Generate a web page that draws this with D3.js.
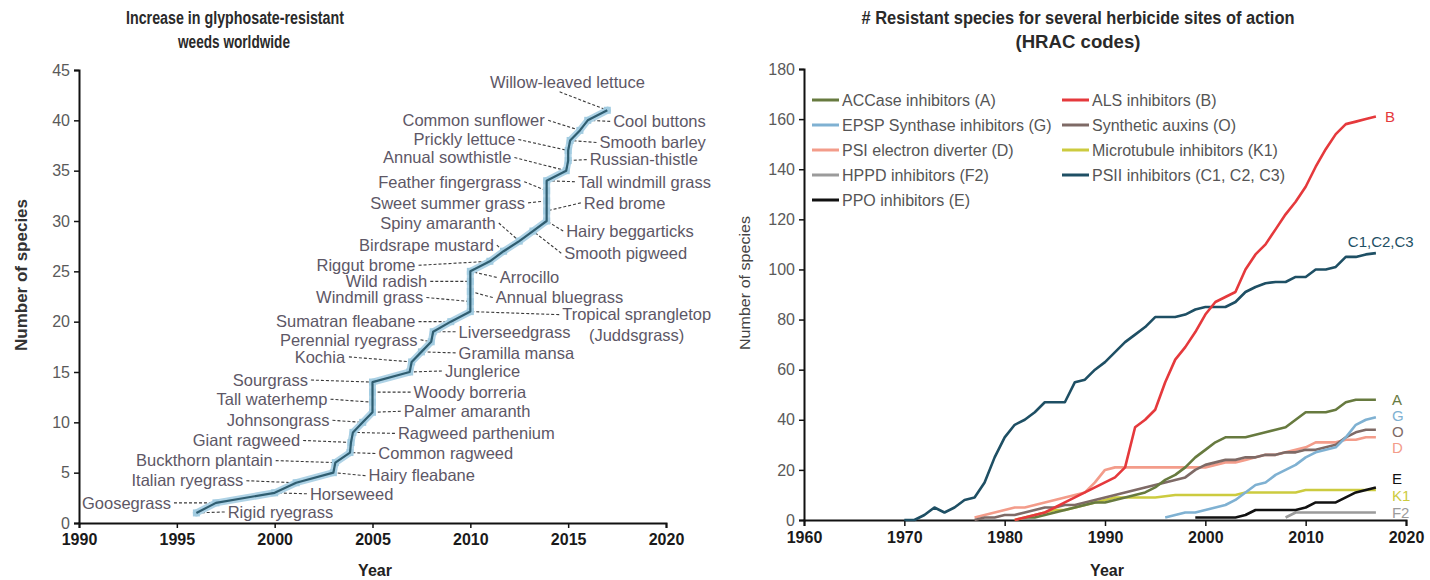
<!DOCTYPE html>
<html>
<head>
<meta charset="utf-8">
<script src="https://cdn.jsdelivr.net/npm/d3@7"></script>
<style>
  body { margin: 0; background: #fff; }
  text { font-family: "Liberation Sans", Arial, sans-serif; }
  .tick text { font-size: 16px; }
</style>
</head>
<body>
<div id="chart"></div>
<script>
// ---------- left panel: glyphosate-resistant weeds, in order of first report
var weedNames = [
  "Rigid ryegrass", "Goosegrass", "Horseweed", "Italian ryegrass", "Hairy fleabane",
  "Buckthorn plantain", "Common ragweed", "Giant ragweed", "Ragweed parthenium", "Johnsongrass",
  "Palmer amaranth", "Tall waterhemp", "Woody borreria", "Sourgrass", "Junglerice",
  "Kochia", "Gramilla mansa", "Perennial ryegrass", "Liverseedgrass", "Sumatran fleabane",
  "Tropical sprangletop\n(Juddsgrass)", "Windmill grass", "Annual bluegrass", "Wild radish", "Arrocillo",
  "Riggut brome", "Birdsrape mustard", "Spiny amaranth", "Smooth pigweed", "Hairy beggarticks",
  "Red brome", "Sweet summer grass", "Feather fingergrass", "Tall windmill grass", "Annual sowthistle",
  "Russian-thistle", "Prickly lettuce", "Smooth barley", "Common sunflower", "Cool buttons",
  "Willow-leaved lettuce"
];
var weedYears = [
  1996.0, 1997.0, 2000.0, 2001.1, 2003.0,
  2003.1, 2003.85, 2003.9, 2004.0, 2004.5,
  2005.0, 2005.0, 2005.0, 2005.0, 2006.9,
  2007.0, 2007.5, 2008.0, 2008.1, 2009.0,
  2010.0, 2010.0, 2010.0, 2010.0, 2010.0,
  2011.0, 2011.7, 2012.5, 2013.2, 2013.9,
  2013.9, 2013.9, 2013.9, 2013.9, 2014.9,
  2015.0, 2015.0, 2015.1, 2015.6, 2016.0,
  2017.0
];
var weedCounts = [
  1, 2, 3, 4, 5, 6, 7, 8, 9, 10,
  11, 12, 13, 14, 15, 16, 17, 18, 19, 20,
  21, 22, 23, 24, 25, 26, 27, 28, 29, 30,
  31, 32, 33, 34, 35, 36, 37, 38, 39, 40,
  41
];
// where each name sits, in axis units: [year, count, text-anchor]
var weedLabelAt = [
  [1997.6, 1.1, "start"], [1994.7, 2.0, "end"], [2001.8, 2.9, "start"], [1998.4, 4.2, "end"], [2004.8, 4.7, "start"],
  [1999.9, 6.2, "end"], [2005.3, 6.9, "start"], [2001.3, 8.2, "end"], [2006.3, 8.9, "start"], [2002.8, 10.2, "end"],
  [2006.6, 11.1, "start"], [2002.7, 12.3, "end"], [2007.1, 13.0, "start"], [2001.7, 14.2, "end"], [2008.7, 15.1, "start"],
  [2003.6, 16.5, "end"], [2009.4, 16.9, "start"], [2007.3, 18.2, "end"], [2009.4, 19.0, "start"], [2007.2, 20.0, "end"],
  [2018.5, 20.7, "middle"], [2007.6, 22.4, "end"], [2011.3, 22.4, "start"], [2007.8, 24.0, "end"], [2011.5, 24.4, "start"],
  [2007.2, 25.6, "end"], [2011.2, 27.6, "end"], [2011.3, 29.8, "end"], [2014.8, 26.8, "start"], [2014.9, 29.0, "start"],
  [2015.8, 31.8, "start"], [2012.8, 31.8, "end"], [2012.6, 33.9, "end"], [2015.5, 33.9, "start"], [2012.1, 36.3, "end"],
  [2016.1, 36.1, "start"], [2012.3, 38.1, "end"], [2016.6, 37.8, "start"], [2013.8, 40.0, "end"], [2017.3, 39.9, "start"],
  [2011.0, 43.8, "top"]
];
var weedYTicks = [0, 5, 10, 15, 20, 25, 30, 35, 40, 45];
var weedXTicks = [1990, 1995, 2000, 2005, 2010, 2015, 2020];

// ---------- right panel: resistant species by HRAC site of action
var hracCodes = ["A", "G", "D", "F2", "E", "B", "O", "K1", "C1,C2,C3"];
var hracNames = [
  "ACCase inhibitors (A)", "EPSP Synthase inhibitors (G)", "PSI electron diverter (D)",
  "HPPD inhibitors (F2)", "PPO inhibitors (E)", "ALS inhibitors (B)", "Synthetic auxins (O)",
  "Microtubule inhibitors (K1)", "PSII inhibitors (C1, C2, C3)"
];
var hracStartYear = [1982, 1996, 1977, 2008, 1999, 1981, 1977, 1981, 1970];

var accaseValues = [1, 1, 2, 3, 4, 5, 6, 7, 7, 8, 9, 10, 11, 13, 16, 18, 21, 25, 28, 31, 33, 33, 33, 34, 35, 36, 37, 40, 43, 43, 43, 44, 47, 48, 48, 48];
var epspValues = [1, 2, 3, 3, 4, 5, 6, 8, 11, 14, 15, 18, 20, 22, 25, 27, 28, 29, 33, 38, 40, 41];
var psiValues = [1, 2, 3, 4, 5, 5, 6, 7, 8, 9, 10, 11, 15, 20, 21, 21, 21, 21, 21, 21, 21, 21, 21, 21, 22, 23, 23, 24, 25, 26, 26, 27, 28, 29, 31, 31, 31, 32, 32, 33, 33];
var hppdValues = [1, 3, 3, 3, 3, 3, 3, 3, 3, 3];
var ppoValues = [1, 1, 1, 1, 1, 2, 4, 4, 4, 4, 4, 5, 7, 7, 7, 9, 11, 12, 13];
var alsValues = [0, 1, 2, 3, 5, 7, 9, 11, 13, 15, 17, 21, 37, 40, 44, 55, 64, 69, 75, 82, 87, 89, 91, 100, 106, 110, 116, 122, 127, 133, 141, 148, 154, 158, 159, 160, 161];
var auxinValues = [0, 1, 1, 2, 2, 3, 4, 5, 5, 6, 6, 7, 8, 9, 10, 11, 12, 13, 14, 15, 16, 17, 20, 22, 23, 24, 24, 25, 25, 26, 26, 27, 27, 28, 28, 29, 30, 33, 35, 36, 36];
var microtubuleValues = [0, 1, 2, 3, 4, 4, 5, 6, 7, 8, 9, 9, 9, 9, 9, 9.5, 10, 10, 10, 10, 10, 10, 10, 11, 11, 11, 11, 11, 11, 12, 12, 12, 12, 12, 12, 12, 12];
var psiiValues = [0, 0, 2, 5, 3, 5, 8, 9, 15, 25, 33, 38, 40, 43, 47, 47, 47, 55, 56, 60, 63, 67, 71, 74, 77, 81, 81, 81, 82, 84, 85, 85, 85, 87, 91, 93, 94.5, 95, 95, 97, 97, 100, 100, 101, 105, 105, 106, 106.5];

var hracValues = [accaseValues, epspValues, psiValues, hppdValues, ppoValues, alsValues, auxinValues, microtubuleValues, psiiValues];
var hracColors = ["#677a3f", "#7fb1d2", "#f39c8a", "#9b9b9b", "#111111", "#e5393c", "#7e6a66", "#cccb3f", "#1e4f64"];
// end-of-line code labels, in axis units: [year, value]
var hracLabelAt = [[2018.6, 48], [2018.6, 41.5], [2018.6, 28.7], [2018.6, 3], [2018.6, 16.5], [2017.9, 161], [2018.6, 35.2], [2018.6, 9.5], [2014.2, 111]];
var hracYTicks = [0, 20, 40, 60, 80, 100, 120, 140, 160, 180];
var hracXTicks = [1960, 1970, 1980, 1990, 2000, 2010, 2020];

var width = 1430, height = 580;

var svg = d3.select("#chart").append("svg")
  .attr("width", width)
  .attr("height", height);

// ================= left panel =================
var xL = d3.scaleLinear().domain([1990, 2020]).range([79, 666]);
var yL = d3.scaleLinear().domain([0, 45]).range([523, 70]);

var left = svg.append("g").attr("class", "left");

left.append("g")
  .attr("transform", "translate(0," + yL(0) + ")")
  .call(d3.axisBottom(xL).tickValues(weedXTicks).tickFormat(d3.format("d")).tickSizeOuter(0).tickSize(5).tickPadding(6))
  .call(styleAxis, true);

left.append("g")
  .attr("transform", "translate(" + xL(1990) + ",0)")
  .call(d3.axisLeft(yL).tickValues(weedYTicks).tickSizeOuter(0).tickSize(5).tickPadding(4))
  .call(styleAxis, false);

function styleAxis(g, isX) {
  g.select(".domain").attr("stroke", "#111").attr("stroke-width", 2);
  g.selectAll(".tick line").attr("stroke", "#111").attr("stroke-width", 1.5);
  g.selectAll(".tick text")
    .attr("fill", isX ? "#1a1a1a" : "#5a5a5a")
    .attr("font-weight", isX ? "bold" : "normal")
    .attr("font-size", "16px");
}

var weeds = weedNames.map(function(n, i) {
  return { name: n, year: weedYears[i], count: weedCounts[i], lab: weedLabelAt[i] };
});

var weedLine = d3.line()
  .x(function(d) { return xL(d.year) })
  .y(function(d) { return yL(d.count) });

// leaders first so the curve sits on top
var leaderG = left.append("g");
var labelG = left.append("g");

left.append("path")
  .datum(weeds)
  .attr("d", weedLine)
  .attr("fill", "none")
  .attr("stroke", "#afd3e6")
  .attr("stroke-width", 7)
  .attr("stroke-linejoin", "round")
  .attr("stroke-linecap", "round");

left.selectAll(".pt")
  .data(weeds)
  .enter().append("rect")
  .attr("class", "pt")
  .attr("x", function(d) { return xL(d.year) - 3.5 })
  .attr("y", function(d) { return yL(d.count) - 3.5 })
  .attr("width", 7)
  .attr("height", 7)
  .attr("fill", "#a2cce1");

left.append("path")
  .datum(weeds)
  .attr("d", weedLine)
  .attr("fill", "none")
  .attr("stroke", "#2f5d70")
  .attr("stroke-width", 2.2)
  .attr("stroke-linejoin", "round");

weeds.forEach(function(d) {
  var side = d.lab[2];
  var anchor = side === "top" ? "start" : side;
  var t = labelG.append("text")
    .attr("x", xL(d.lab[0]))
    .attr("y", yL(d.lab[1]))
    .attr("text-anchor", anchor)
    .attr("font-size", "16.5px")
    .attr("fill", "#5d5766");
  var lines = d.name.split("\n");
  lines.forEach(function(s, k) {
    t.append("tspan")
      .attr("x", xL(d.lab[0]))
      .attr("dy", k === 0 ? "0.35em" : "1.25em")
      .text(s);
  });

  var b = t.node().getBBox();
  var px = xL(d.year), py = yL(d.count);
  var sx, sy = yL(d.lab[1]);
  if (side === "end") sx = b.x + b.width + 3;
  else if (side === "top") { sx = b.x + b.width * 0.45; sy = b.y + b.height + 1; }
  else sx = b.x - 3;

  leaderG.append("line")
    .attr("x1", sx).attr("y1", sy)
    .attr("x2", px).attr("y2", py)
    .attr("stroke", "#3a3a3a")
    .attr("stroke-width", 1.1)
    .attr("stroke-dasharray", "3,2");
});

left.append("text")
  .attr("x", 235).attr("y", 24)
  .attr("text-anchor", "middle")
  .attr("font-weight", "bold")
  .attr("font-size", "18px")
  .attr("fill", "#2a2a2a")
  .attr("textLength", 218).attr("lengthAdjust", "spacingAndGlyphs")
  .text("Increase in glyphosate-resistant");
left.append("text")
  .attr("x", 234).attr("y", 48)
  .attr("text-anchor", "middle")
  .attr("font-weight", "bold")
  .attr("font-size", "18px")
  .attr("fill", "#2a2a2a")
  .attr("textLength", 112).attr("lengthAdjust", "spacingAndGlyphs")
  .text("weeds worldwide");

left.append("text")
  .attr("transform", "translate(27,275) rotate(-90)")
  .attr("text-anchor", "middle")
  .attr("font-size", "16px")
  .attr("font-weight", "bold")
  .attr("fill", "#333")
  .attr("textLength", 152).attr("lengthAdjust", "spacingAndGlyphs")
  .text("Number of species");

left.append("text")
  .attr("x", 375).attr("y", 576)
  .attr("text-anchor", "middle")
  .attr("font-size", "16px")
  .attr("font-weight", "bold")
  .attr("fill", "#222")
  .text("Year");

// ================= right panel =================
var xR = d3.scaleLinear().domain([1960, 2020]).range([804, 1406]);
var yR = d3.scaleLinear().domain([0, 180]).range([520, 69]);

var right = svg.append("g").attr("class", "right");

right.append("g")
  .attr("transform", "translate(0," + yR(0) + ")")
  .call(d3.axisBottom(xR).tickValues(hracXTicks).tickFormat(d3.format("d")).tickSizeOuter(0).tickSize(6).tickPadding(6))
  .call(styleAxis, true);

right.append("g")
  .attr("transform", "translate(" + xR(1960) + ",0)")
  .call(d3.axisLeft(yR).tickValues(hracYTicks).tickSizeOuter(0).tickSize(5).tickPadding(4))
  .call(styleAxis, false);

var series = hracCodes.map(function(c, i) {
  return {
    code: c,
    name: hracNames[i],
    color: hracColors[i],
    lab: hracLabelAt[i],
    values: hracValues[i].map(function(v, k) { return { year: hracStartYear[i] + k, value: v } })
  };
});

var hracLine = d3.line()
  .x(function(d) { return xR(d.year) })
  .y(function(d) { return yR(d.value) });

// draw order so that the big series sit on top like the original
var drawOrder = [3, 7, 2, 6, 1, 0, 4, 8, 5];
right.selectAll(".series")
  .data(drawOrder.map(function(i) { return series[i] }))
  .enter().append("path")
  .attr("class", "series")
  .attr("d", function(d) { return hracLine(d.values) })
  .attr("fill", "none")
  .attr("stroke", function(d) { return d.color })
  .attr("stroke-width", 2.6)
  .attr("stroke-linejoin", "round");

right.selectAll(".code")
  .data(series)
  .enter().append("text")
  .attr("class", "code")
  .attr("x", function(d) { return xR(d.lab[0]) })
  .attr("y", function(d) { return yR(d.lab[1]) })
  .attr("dy", "0.35em")
  .attr("font-size", "15px")
  .attr("fill", function(d) { return d.color })
  .text(function(d) { return d.code });

// legend: two columns
var legend = right.selectAll(".legend")
  .data(series)
  .enter().append("g")
  .attr("class", "legend")
  .attr("transform", function(d, i) {
    var col = i < 5 ? 0 : 1, row = i < 5 ? i : i - 5;
    return "translate(" + (col === 0 ? 812 : 1062) + "," + (100 + row * 25) + ")";
  });

legend.append("line")
  .attr("x1", 0).attr("x2", 27)
  .attr("stroke", function(d) { return d.color })
  .attr("stroke-width", 3);

legend.append("text")
  .attr("x", 30)
  .attr("dy", "0.35em")
  .attr("font-size", "16px")
  .attr("fill", "#555")
  .text(function(d) { return d.name });

right.append("text")
  .attr("x", 1078).attr("y", 24)
  .attr("text-anchor", "middle")
  .attr("font-weight", "bold")
  .attr("font-size", "18px")
  .attr("fill", "#2a2a2a")
  .attr("textLength", 433).attr("lengthAdjust", "spacingAndGlyphs")
  .text("# Resistant species for several herbicide sites of action");
right.append("text")
  .attr("x", 1078).attr("y", 48)
  .attr("text-anchor", "middle")
  .attr("font-weight", "bold")
  .attr("font-size", "18px")
  .attr("fill", "#2a2a2a")
  .attr("textLength", 125).attr("lengthAdjust", "spacingAndGlyphs")
  .text("(HRAC codes)");

right.append("text")
  .attr("transform", "translate(750,283) rotate(-90)")
  .attr("text-anchor", "middle")
  .attr("font-size", "15px")
  .attr("fill", "#444")
  .attr("textLength", 134).attr("lengthAdjust", "spacingAndGlyphs")
  .text("Number of species");

right.append("text")
  .attr("x", 1107).attr("y", 576)
  .attr("text-anchor", "middle")
  .attr("font-size", "16px")
  .attr("font-weight", "bold")
  .attr("fill", "#222")
  .text("Year");
</script>
</body>
</html>
